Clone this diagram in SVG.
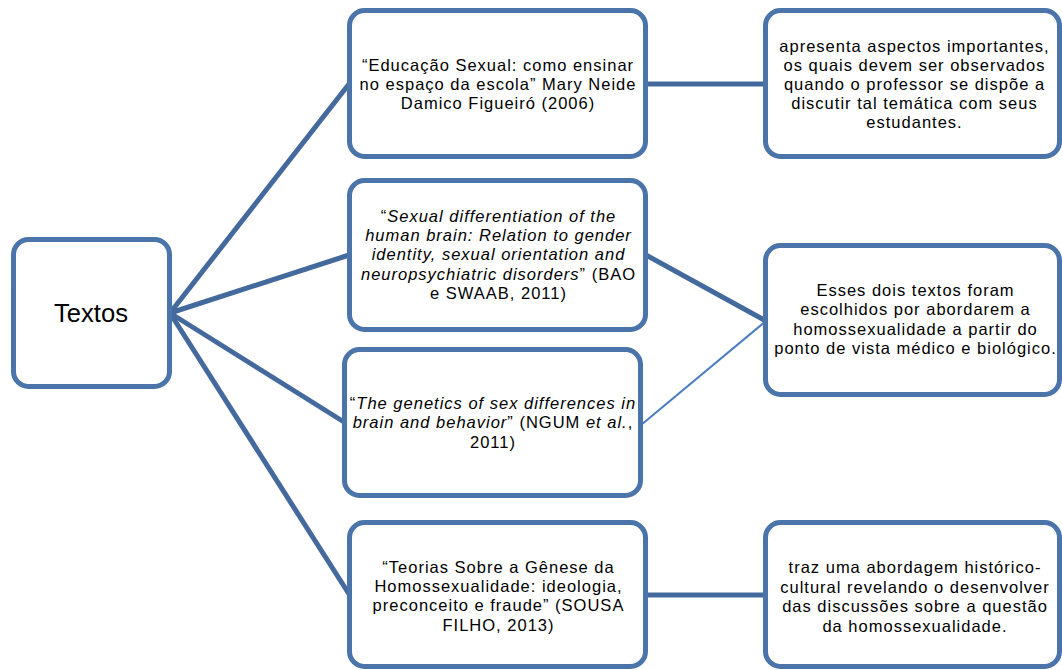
<svg xmlns="http://www.w3.org/2000/svg" width="1062" height="670" viewBox="0 0 1062 670">
<style>
.box{fill:#ffffff;stroke:#4a74aa;stroke-width:5}
.ln{stroke:#44699d;stroke-width:5;fill:none}
.thin{stroke:#4a7cc0;stroke-width:2;fill:none}
.t{font-family:"Liberation Sans",Arial,sans-serif;font-size:16.5px;letter-spacing:1px;fill:#000;text-anchor:middle}
.big{font-family:"Liberation Sans",Arial,sans-serif;font-size:25.6px;fill:#000;text-anchor:middle}
</style>
<rect width="1062" height="670" fill="#ffffff"/>
<g id="connectors">
<line class="ln" x1="170" y1="313" x2="349" y2="84"/>
<line class="ln" x1="170" y1="313" x2="349" y2="255"/>
<line class="ln" x1="170" y1="313" x2="344" y2="422"/>
<line class="ln" x1="170" y1="313" x2="349" y2="594"/>
<line class="ln" x1="646" y1="84" x2="766" y2="84"/>
<line class="ln" x1="646" y1="255" x2="766" y2="321"/>
<line class="thin" x1="641" y1="425" x2="766" y2="321"/>
<line class="ln" x1="646" y1="595" x2="766" y2="595"/>
</g>
<g id="textos">
<rect class="box" x="13.5" y="239.5" width="156" height="147" rx="15"/>
<text class="big" x="91" y="322">Textos</text>
</g>
<g id="educacao">
<rect class="box" x="349.5" y="10.5" width="296" height="146" rx="15"/>
<text class="t" x="498" y="70.5">“Educação Sexual: como ensinar</text>
<text class="t" x="498" y="89.5">no espaço da escola” Mary Neide</text>
<text class="t" x="498" y="109">Damico Figueiró (2006)</text>
</g>
<g id="sexual-diff">
<rect class="box" x="349.5" y="180.5" width="296" height="149" rx="15"/>
<text class="t" x="498.5" y="221.5">“<tspan font-style="italic">Sexual differentiation of the</tspan></text>
<text class="t" x="498.5" y="241" font-style="italic">human brain: Relation to gender</text>
<text class="t" x="498.5" y="260.3" font-style="italic">identity, sexual orientation and</text>
<text class="t" x="498.5" y="279.6"><tspan font-style="italic">neuropsychiatric disorders</tspan>” (BAO</text>
<text class="t" x="498.5" y="299">e SWAAB, 2011)</text>
</g>
<g id="genetics">
<rect class="box" x="344.5" y="349.5" width="296" height="146" rx="15"/>
<text class="t" x="493" y="409">“<tspan font-style="italic">The genetics of sex differences in</tspan></text>
<text class="t" x="493" y="428.3"><tspan font-style="italic">brain and behavior</tspan>” (NGUM <tspan font-style="italic">et al.</tspan>,</text>
<text class="t" x="493" y="448">2011)</text>
</g>
<g id="teorias">
<rect class="box" x="349.5" y="522.5" width="296" height="144" rx="15"/>
<text class="t" x="498.5" y="572.7">“Teorias Sobre a Gênese da</text>
<text class="t" x="498.5" y="592">Homossexualidade: ideologia,</text>
<text class="t" x="498.5" y="611.3">preconceito e fraude” (SOUSA</text>
<text class="t" x="498.5" y="631">FILHO, 2013)</text>
</g>
<g id="apresenta">
<rect class="box" x="765.5" y="10.5" width="294" height="146" rx="15"/>
<text class="t" x="914.5" y="51.7">apresenta aspectos importantes,</text>
<text class="t" x="914.5" y="70.5">os quais devem ser observados</text>
<text class="t" x="914.5" y="89.5">quando o professor se dispõe a</text>
<text class="t" x="914.5" y="109">discutir tal temática com seus</text>
<text class="t" x="914.5" y="128.3">estudantes.</text>
</g>
<g id="esses">
<rect class="box" x="765.5" y="245.5" width="294" height="149" rx="15"/>
<text class="t" x="915.5" y="296">Esses dois textos foram</text>
<text class="t" x="915.5" y="315.3">escolhidos por abordarem a</text>
<text class="t" x="915.5" y="334.5">homossexualidade a partir do</text>
<text class="t" x="915.5" y="354">ponto de vista médico e biológico.</text>
</g>
<g id="traz">
<rect class="box" x="765.5" y="522.5" width="294" height="144" rx="15"/>
<text class="t" x="915" y="573.3">traz uma abordagem histórico-</text>
<text class="t" x="915" y="592.7">cultural revelando o desenvolver</text>
<text class="t" x="915" y="612.3">das discussões sobre a questão</text>
<text class="t" x="915" y="631.7">da homossexualidade.</text>
</g>
</svg>
